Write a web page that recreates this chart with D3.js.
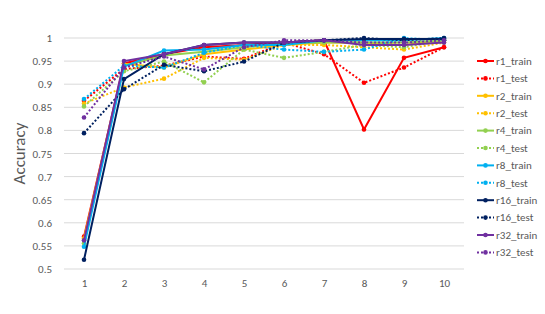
<!DOCTYPE html>
<html>
<head>
<meta charset="utf-8">
<script src="https://cdn.jsdelivr.net/npm/d3@7"></script>
<style>
  body { margin: 0; background: #fff; }
  svg text { font-family: Calibri, Carlito, "Open Sans", sans-serif; fill: #595959; }
</style>
</head>
<body>
<div id="chart"></div>
<script>
// Data
const epochs = [1, 2, 3, 4, 5, 6, 7, 8, 9, 10];
const yTicks = [0.5, 0.55, 0.6, 0.65, 0.7, 0.75, 0.8, 0.85, 0.9, 0.95, 1];

const r1_train = [0.57, 0.945, 0.965, 0.98, 0.985, 0.99, 0.995, 0.802, 0.957, 0.98];
const r1_test = [0.864, 0.933, 0.94, 0.96, 0.955, 0.99, 0.965, 0.903, 0.936, 0.98];
const r2_train = [0.566, 0.944, 0.936, 0.965, 0.975, 0.985, 0.99, 0.99, 0.985, 0.995];
const r2_test = [0.858, 0.893, 0.912, 0.957, 0.953, 0.985, 0.985, 0.98, 0.975, 0.99];
const r4_train = [0.556, 0.94, 0.962, 0.97, 0.98, 0.988, 0.99, 0.99, 0.99, 0.995];
const r4_test = [0.852, 0.928, 0.949, 0.904, 0.975, 0.957, 0.97, 0.985, 0.98, 0.995];
const r8_train = [0.548, 0.938, 0.973, 0.975, 0.985, 0.985, 0.995, 0.995, 0.995, 1.0];
const r8_test = [0.868, 0.94, 0.936, 0.968, 0.985, 0.975, 0.97, 0.975, 1.0, 0.995];
const r16_train = [0.52, 0.911, 0.965, 0.985, 0.99, 0.99, 0.995, 0.998, 0.998, 0.998];
const r16_test = [0.794, 0.889, 0.942, 0.928, 0.949, 0.99, 0.995, 1.0, 0.995, 1.0];
const r32_train = [0.562, 0.95, 0.965, 0.985, 0.99, 0.99, 0.995, 0.985, 0.985, 0.99];
const r32_test = [0.828, 0.936, 0.96, 0.932, 0.98, 0.995, 0.995, 0.99, 0.99, 0.995];

const series = [
  { name: "r1_train", values: r1_train, color: "#ff0000", dashed: false },
  { name: "r1_test", values: r1_test, color: "#ff0000", dashed: true },
  { name: "r2_train", values: r2_train, color: "#ffc000", dashed: false },
  { name: "r2_test", values: r2_test, color: "#ffc000", dashed: true },
  { name: "r4_train", values: r4_train, color: "#92d050", dashed: false },
  { name: "r4_test", values: r4_test, color: "#92d050", dashed: true },
  { name: "r8_train", values: r8_train, color: "#00b0f0", dashed: false },
  { name: "r8_test", values: r8_test, color: "#00b0f0", dashed: true },
  { name: "r16_train", values: r16_train, color: "#002060", dashed: false },
  { name: "r16_test", values: r16_test, color: "#002060", dashed: true },
  { name: "r32_train", values: r32_train, color: "#7030a0", dashed: false },
  { name: "r32_test", values: r32_test, color: "#7030a0", dashed: true },
];

// Dimensions
const width = 545;
const height = 314;
const plot = { left: 64, right: 464, top: 38, bottom: 269 };

const svg = d3.select("#chart")
  .append("svg")
  .attr("width", width)
  .attr("height", height);

// Scales
const xScale = d3.scaleLinear()
  .domain([0.5, 10.5])
  .range([plot.left, plot.right]);

const yScale = d3.scaleLinear()
  .domain([0.5, 1])
  .range([plot.bottom, plot.top]);

// Gridlines
svg.append("g")
  .selectAll("line")
  .data(yTicks)
  .join("line")
  .attr("x1", plot.left)
  .attr("x2", plot.right)
  .attr("y1", d => yScale(d))
  .attr("y2", d => yScale(d))
  .attr("stroke", "#d9d9d9")
  .attr("stroke-width", 1);

// Axes
const yAxis = d3.axisLeft(yScale)
  .tickValues(yTicks)
  .tickFormat(d => String(+d.toFixed(2)))
  .tickSize(0)
  .tickPadding(12);

svg.append("g")
  .attr("transform", `translate(${plot.left}, 0)`)
  .call(yAxis)
  .call(g => g.select(".domain").remove())
  .selectAll("text")
  .style("font-size", "11px");

const xAxis = d3.axisBottom(xScale)
  .tickValues(epochs)
  .tickFormat(d3.format("d"))
  .tickSize(0)
  .tickPadding(10);

svg.append("g")
  .attr("transform", `translate(0, ${plot.bottom})`)
  .call(xAxis)
  .call(g => g.select(".domain").remove())
  .selectAll("text")
  .style("font-size", "11px");

// Y label
svg.append("text")
  .attr("transform", `translate(25, ${(plot.top + plot.bottom) / 2}) rotate(-90)`)
  .attr("text-anchor", "middle")
  .style("font-size", "17px")
  .text("Accuracy");

// Lines
const line = d3.line()
  .x((d, i) => xScale(epochs[i]))
  .y(d => yScale(d));

const lines = svg.append("g");
series.forEach(s => {
  const g = lines.append("g");
  g.append("path")
    .datum(s.values)
    .attr("d", line)
    .attr("fill", "none")
    .attr("stroke", s.color)
    .attr("stroke-width", 2)
    .attr("stroke-dasharray", s.dashed ? "2,2" : null);
  g.selectAll("circle")
    .data(s.values)
    .join("circle")
    .attr("cx", (d, i) => xScale(epochs[i]))
    .attr("cy", d => yScale(d))
    .attr("r", 2.3)
    .attr("fill", s.color);
});

// Legend
const legend = svg.append("g")
  .attr("transform", "translate(477, 61)");

const item = legend.selectAll("g")
  .data(series)
  .join("g")
  .attr("transform", (d, i) => `translate(0, ${i * 17.4})`);

item.append("line")
  .attr("x1", 0)
  .attr("x2", 17)
  .attr("stroke", d => d.color)
  .attr("stroke-width", 2)
  .attr("stroke-dasharray", d => d.dashed ? "2,2" : null);

item.append("circle")
  .attr("cx", 8.5)
  .attr("r", 2.3)
  .attr("fill", d => d.color);

item.append("text")
  .attr("x", 19)
  .attr("dy", "0.35em")
  .style("font-size", "11px")
  .text(d => d.name);
</script>
</body>
</html>
